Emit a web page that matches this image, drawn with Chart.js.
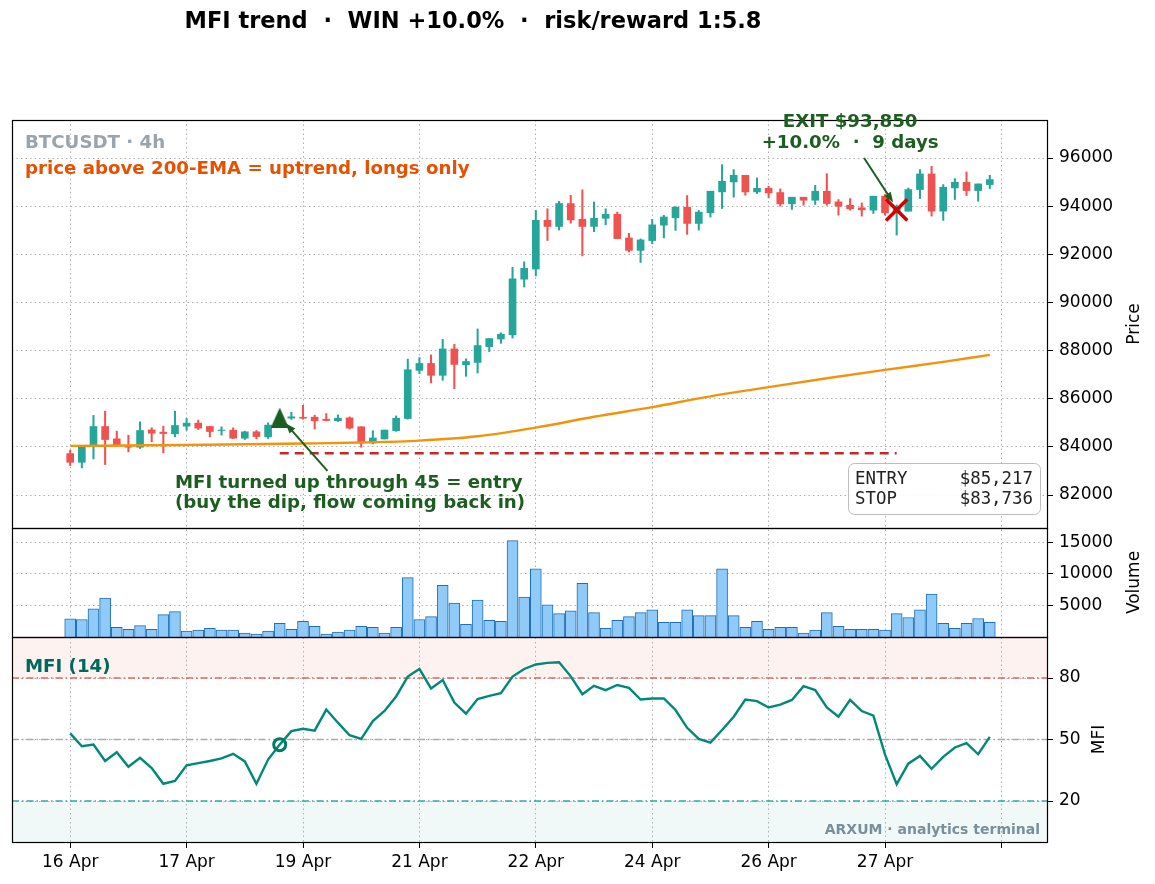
<!DOCTYPE html>
<html>
<head>
<meta charset="utf-8">
<script src="https://cdn.jsdelivr.net/npm/chart.js@4.4.1/dist/chart.umd.min.js"></script>
<style>
  html, body { margin: 0; padding: 0; background: #fff; }
  #wrap { position: relative; width: 1155px; height: 884px; }
</style>
</head>
<body>
<div id="wrap"><canvas id="c" width="1155" height="884"></canvas></div>
<script>
const FONT = "'DejaVu Sans', sans-serif";
const MONO = "'DejaVu Sans Mono', monospace";

// x axis: one slot per 4h candle, a date label every 10 candles
const dayLabels = ['16 Apr', '17 Apr', '19 Apr', '21 Apr', '22 Apr', '24 Apr', '26 Apr', '27 Apr', ''];
const dayTickIdx = [0, 10, 20, 30, 40, 50, 60, 70, 80];
const priceTicks = [82000, 84000, 86000, 88000, 90000, 92000, 94000, 96000];
const volumeTicks = [5000, 10000, 15000];
const mfiTicks = [20, 50, 80];

// BTCUSDT 4h candles
const open = [83722, 83361, 84028, 84847, 84333, 84055, 83986, 84708, 84611, 84541,
  84861, 84986, 84847, 84680, 84695, 84361, 84625, 84416, 84903, 85194,
  85233, 85233, 85150, 85082, 85206, 84835, 84164, 84329, 84671, 85178,
  87178, 87466, 86973, 88068, 87411, 87507, 88164, 88480, 88655, 90967,
  91389, 93415, 93157, 94109, 93456, 93157, 93497, 93660, 92681, 92164,
  92572, 93211, 93517, 93959, 93283, 93724, 94593, 95007, 95283, 94593,
  94745, 94566, 94097, 94373, 94248, 94621, 94179, 94041, 93931, 93834,
  94414, 93750, 93793, 94690, 95338, 93793, 94759, 94993, 94648, 94897];
const high = [83861, 83986, 85306, 85486, 84653, 84486, 85042, 84792, 84861, 85486,
  85180, 85111, 84847, 84833, 84792, 84653, 84680, 85000, 85300, 85444,
  85726, 85315, 85384, 85329, 85246, 84835, 84671, 84698, 85287, 87644,
  87712, 87822, 88466, 88260, 87658, 88900, 88500, 88740, 91457, 91688,
  93823, 93891, 94204, 94449, 94680, 94177, 93891, 93755, 92871, 92640,
  93456, 93619, 93980, 94442, 93821, 94621, 95724, 95518, 95283, 95172,
  94828, 94718, 94373, 94373, 94869, 95352, 94276, 94317, 94138, 94414,
  94483, 94050, 94759, 95517, 95655, 94897, 95145, 95421, 94924, 95283];
const low = [83222, 83125, 83500, 83264, 84028, 83792, 83930, 84208, 83750, 84416,
  84694, 84722, 84416, 84486, 84347, 84305, 84333, 84347, 84850, 85139,
  85150, 84740, 85082, 85055, 84740, 83986, 84123, 84329, 84644, 85150,
  87041, 86657, 86767, 86411, 86932, 87068, 87959, 88300, 88519, 90640,
  91103, 92572, 93007, 93293, 91933, 92939, 93225, 92654, 92096, 91661,
  92436, 92681, 92993, 92827, 93006, 93545, 93903, 94373, 94455, 94524,
  94345, 94000, 93862, 94041, 94069, 94041, 93627, 93834, 93586, 93696,
  93627, 92800, 93793, 94317, 93586, 93407, 94276, 94442, 94207, 94731];
const close = [83361, 83986, 84847, 84305, 84097, 83986, 84680, 84569, 84555, 84889,
  84986, 84778, 84639, 84700, 84361, 84625, 84430, 84903, 85217, 85250,
  85192, 85082, 85096, 85192, 84781, 84164, 84370, 84698, 85192, 87205,
  87466, 86973, 88068, 87425, 87548, 88210, 88500, 88680, 90981, 91416,
  93415, 93157, 94109, 93429, 93157, 93497, 93660, 92654, 92164, 92599,
  93225, 93551, 93959, 93283, 93752, 94621, 95035, 95283, 94593, 94745,
  94552, 94097, 94373, 94248, 94621, 94110, 94000, 93890, 93848, 94414,
  93724, 93950, 94690, 95338, 93793, 94786, 94993, 94648, 94924, 95104];
const volume = [2900, 2780, 4480, 6180, 1545, 1236, 1800, 1236, 3550, 4020,
  930, 1080, 1390, 1080, 1080, 620, 460, 930, 2160, 1236,
  2470, 1700, 460, 770, 1080, 1700, 1545, 620, 1545, 9420,
  2780, 3245, 8190, 5400, 2010, 5870, 2630, 2470, 15300, 6330,
  10800, 5100, 3710, 4170, 8500, 3860, 1390, 2630, 3245, 3860,
  4330, 2320, 2320, 4330, 3400, 3400, 10800, 3400, 1545, 2470,
  1236, 1545, 1545, 620, 1080, 3860, 1700, 1236, 1236, 1236,
  1080, 3710, 3090, 4330, 6800, 2160, 1390, 2160, 2935, 2320];
const mfi = [53, 46.7, 47.5, 39.5, 43.8, 36.7, 41.1, 36.1, 28.4, 29.8,
  37.4, 38.5, 39.5, 40.8, 43, 39.3, 28.4, 40.2, 47.5, 54.1,
  55.2, 54.3, 64.6, 58.2, 52.1, 50.3, 59, 63.9, 71, 80.7,
  84.4, 74.9, 79, 68, 62.6, 69.7, 71.3, 72.6, 80.7, 84.4,
  86.6, 87.4, 87.7, 80.8, 72.1, 76.2, 74.1, 76.6, 75.2, 69.5,
  70, 70, 64.4, 55.7, 50.3, 48.5, 54.6, 61.1, 69.5, 68.7,
  65.6, 67, 69.3, 76, 74.1, 65.6, 61.1, 69.3, 63.9, 61.6,
  42.6, 28.2, 38.2, 42, 35.7, 41.5, 46.1, 48.2, 42.8, 51.3];
// 200-EMA read at every 5th candle
const emaIdx = [0, 5, 10, 15, 20, 25, 30, 35, 40, 45, 50, 55, 60, 65, 70, 75, 79];
const ema200 = [84040, 84060, 84080, 84110, 84140, 84180, 84260, 84440, 84800, 85250,
  85650, 86100, 86480, 86850, 87200, 87530, 87820];

const entryIdx = 18, entryPrice = 85217;
const exitIdx = 71, exitPrice = 93850;
const stopPrice = 83736, stopEndIdx = 71;
const mfiHigh = 80, mfiMid = 50, mfiLow = 20;

const UP = '#26a69a', DOWN = '#ef5350', DARKGREEN = '#1b5e20';

const idx = open.map((_, i) => i);
const candleColor = idx.map(i => close[i] >= open[i] ? UP : DOWN);

// entry marker: triangle centred on its box, like a matplotlib '^'
const triangle = document.createElement('canvas');
triangle.width = 18; triangle.height = 20;
(() => {
  const t = triangle.getContext('2d');
  t.fillStyle = DARKGREEN;
  t.beginPath(); t.moveTo(9, 0); t.lineTo(18, 20); t.lineTo(0, 20); t.closePath(); t.fill();
})();

function grid() {
  return { offset: false, color: '#b0b0b0', lineWidth: 1, tickColor: '#000', tickLength: 5, tickWidth: 1, tickBorderDash: [] };
}
function fixedTicks(values) {
  return s => { s.ticks = values.map(v => ({ value: v })); };
}
function yAxis(weight, min, max, values) {
  return {
    type: 'linear', position: 'right', stack: 'panels', stackWeight: weight,
    min: min, max: max,
    afterBuildTicks: fixedTicks(values),
    afterFit: s => { s.width = 107; s.paddingTop = 0; s.paddingBottom = 0; },
    ticks: { font: { size: 17, family: FONT }, color: '#000', padding: 6, callback: v => String(v) },
    grid: grid(),
    border: { display: false, dash: [1.5, 3] }
  };
}

function arrow(ctx, x1, y1, x2, y2) {
  const a = Math.atan2(y2 - y1, x2 - x1);
  ctx.strokeStyle = DARKGREEN; ctx.fillStyle = DARKGREEN; ctx.lineWidth = 2;
  ctx.beginPath(); ctx.moveTo(x1, y1); ctx.lineTo(x2 - 7 * Math.cos(a), y2 - 7 * Math.sin(a)); ctx.stroke();
  ctx.beginPath(); ctx.moveTo(x2, y2);
  ctx.lineTo(x2 - 11 * Math.cos(a - 0.35), y2 - 11 * Math.sin(a - 0.35));
  ctx.lineTo(x2 - 11 * Math.cos(a + 0.35), y2 - 11 * Math.sin(a + 0.35));
  ctx.closePath(); ctx.fill();
}

const overlay = {
  id: 'overlay',
  beforeDraw(chart) {
    const { ctx, chartArea: a, scales: { ym } } = chart;
    ctx.save();
    const yHi = ym.getPixelForValue(mfiHigh), yLo = ym.getPixelForValue(mfiLow);
    ctx.fillStyle = 'rgba(239,83,80,0.08)';
    ctx.fillRect(a.left, ym.top, a.width, yHi - ym.top);
    ctx.fillStyle = 'rgba(38,166,154,0.07)';
    ctx.fillRect(a.left, yLo, a.width, ym.bottom - yLo);
    ctx.restore();
  },
  afterDatasetsDraw(chart) {
    const { ctx, chartArea: a, scales } = chart;
    ctx.save();
    ctx.strokeStyle = '#000'; ctx.lineWidth = 1.2;
    ['y', 'yv', 'ym'].forEach(k => {
      const s = scales[k];
      ctx.strokeRect(a.left + 0.5, s.top + 0.5, a.width - 1, s.bottom - s.top);
    });
    ctx.restore();
  },
  afterDraw(chart) {
    const { ctx, chartArea: a, scales: { x, y, yv, ym } } = chart;
    ctx.save();
    ctx.textBaseline = 'middle';

    // figure title
    ctx.fillStyle = '#000'; ctx.textAlign = 'center';
    ctx.font = 'bold 22.5px ' + FONT;
    ctx.fillText('MFI trend  \u00b7  WIN +10.0%  \u00b7  risk/reward 1:5.8', 473, 22);

    // axis titles
    ctx.font = '17px ' + FONT;
    [[y, 'Price', a.right + 87], [yv, 'Volume', a.right + 87], [ym, 'MFI', a.right + 52]].forEach(([s, t, px]) => {
      ctx.save();
      ctx.translate(px, (s.top + s.bottom) / 2);
      ctx.rotate(-Math.PI / 2);
      ctx.fillText(t, 0, 0);
      ctx.restore();
    });

    // price panel captions
    ctx.textAlign = 'left';
    ctx.font = 'bold 18.2px ' + FONT;
    ctx.fillStyle = '#9aa4ad';
    ctx.fillText('BTCUSDT \u00b7 4h', a.left + 13, y.top + 23);
    ctx.fillStyle = '#e65100';
    ctx.fillText('price above 200-EMA = uptrend, longs only', a.left + 13, y.top + 49);

    // entry annotation
    ctx.font = 'bold 18.2px ' + FONT;
    ctx.fillStyle = DARKGREEN;
    const ex = x.getPixelForValue(9);
    ctx.fillText('MFI turned up through 45 = entry', ex, y.getPixelForValue(82500));
    ctx.fillText('(buy the dip, flow coming back in)', ex, y.getPixelForValue(82500) + 20);
    arrow(ctx, x.getPixelForValue(22.1), y.getPixelForValue(83000), x.getPixelForValue(18.5), y.getPixelForValue(84980));

    // exit annotation
    ctx.textAlign = 'center';
    const xx = x.getPixelForValue(67);
    ctx.fillText('EXIT $93,850', xx, y.getPixelForValue(97500));
    ctx.fillText('+10.0%  \u00b7  9 days', xx, y.getPixelForValue(97500) + 21);
    arrow(ctx, x.getPixelForValue(68.2), y.getPixelForValue(96000), x.getPixelForValue(70.7), y.getPixelForValue(94150));

    // entry / stop box
    const bx = a.right - 200, by = y.getPixelForValue(83330), bw = 192, bh = 51;
    ctx.beginPath();
    ctx.roundRect(bx + 0.5, by + 0.5, bw, bh, 6);
    ctx.fillStyle = 'rgba(255,255,255,0.9)'; ctx.fill();
    ctx.strokeStyle = '#bdbdbd'; ctx.lineWidth = 1; ctx.stroke();
    ctx.fillStyle = '#222'; ctx.textAlign = 'left';
    ctx.font = '17.4px ' + MONO;
    ctx.fillText('ENTRY     $85,217', bx + 7, by + 16);
    ctx.fillText('STOP      $83,736', bx + 7, by + 36);

    // MFI panel captions
    ctx.font = 'bold 18.2px ' + FONT;
    ctx.fillStyle = '#00695c';
    ctx.fillText('MFI (14)', a.left + 13, ym.top + 30);
    ctx.font = 'bold 14px ' + FONT;
    ctx.fillStyle = '#78909c'; ctx.textAlign = 'right';
    ctx.fillText('ARXUM \u00b7 analytics terminal', a.right - 8, ym.bottom - 12);
    ctx.restore();
  }
};

const levelLine = (v, color) => ({
  type: 'line', yAxisID: 'ym', order: 5,
  data: [{ x: -5, y: v }, { x: 84, y: v }],
  borderColor: color, borderWidth: 1.3, borderDash: [7, 3, 1.5, 3],
  pointRadius: 0
});

new Chart(document.getElementById('c'), {
  type: 'bar',
  data: {
    datasets: [
      { type: 'line', order: 0, yAxisID: 'y', data: [{ x: entryIdx, y: entryPrice }],
        showLine: false, pointStyle: triangle, pointRadius: 10 },
      { type: 'line', order: 0, yAxisID: 'y', data: [{ x: exitIdx, y: exitPrice }],
        showLine: false, pointStyle: 'crossRot', pointRadius: 15, borderColor: '#d50000', borderWidth: 3.5 },
      { type: 'line', order: 0, yAxisID: 'ym', data: [{ x: entryIdx, y: mfi[entryIdx] }],
        showLine: false, pointStyle: 'circle', pointRadius: 6, backgroundColor: 'rgba(0,0,0,0)', borderColor: '#00796b', borderWidth: 3 },
      { type: 'line', order: 1, yAxisID: 'y', data: [{ x: entryIdx, y: stopPrice }, { x: stopEndIdx, y: stopPrice }],
        borderColor: '#c62828', borderWidth: 2.5, borderDash: [9, 6], pointRadius: 0 },
      { type: 'line', order: 2, yAxisID: 'y', data: emaIdx.map((v, k) => ({ x: v, y: ema200[k] })),
        borderColor: '#f3920c', borderWidth: 2.4, pointRadius: 0, cubicInterpolationMode: 'monotone' },
      { type: 'line', order: 2, yAxisID: 'ym', data: idx.map(i => ({ x: i, y: mfi[i] })),
        borderColor: '#00897b', borderWidth: 2.4, pointRadius: 0, tension: 0 },
      { order: 3, yAxisID: 'y', grouped: false, barThickness: 7,
        data: idx.map(i => ({ x: i, y: [open[i], close[i]] })),
        backgroundColor: candleColor, borderWidth: 0 },
      { order: 4, yAxisID: 'y', grouped: false, barThickness: 1.4,
        data: idx.map(i => ({ x: i, y: [low[i], high[i]] })),
        backgroundColor: candleColor, borderWidth: 0 },
      levelLine(mfiHigh, 'rgba(229,83,80,0.9)'),
      levelLine(mfiMid, '#aaaaaa'),
      levelLine(mfiLow, 'rgba(38,166,154,0.95)'),
      { order: 6, yAxisID: 'yv', grouped: false, barThickness: 11,
        data: idx.map(i => ({ x: i, y: volume[i] })),
        backgroundColor: '#90caf9', borderColor: '#1f6fb4', borderWidth: 1 }
    ]
  },
  options: {
    responsive: false,
    animation: false,
    layout: { autoPadding: false, padding: { top: 120, left: 12, right: 0, bottom: 0 } },
    plugins: { legend: { display: false }, tooltip: { enabled: false } },
    scales: {
      x: {
        type: 'linear', min: -5, max: 84, offset: false,
        afterBuildTicks: fixedTicks(dayTickIdx),
        afterFit: s => { s.height = 42; s.paddingLeft = 0; s.paddingRight = 0; },
        ticks: { autoSkip: false, maxRotation: 0, padding: 4, font: { size: 17, family: FONT }, color: '#000',
          callback: v => { const k = dayTickIdx.indexOf(v); return k < 0 ? '' : dayLabels[k]; } },
        grid: Object.assign(grid(), { tickLength: 6 }),
        border: { display: false, dash: [1.5, 3] }
      },
      y: yAxis(408, 80630, 97580, priceTicks),
      yv: yAxis(109, 0, 17300, volumeTicks),
      ym: yAxis(205, 0, 100, mfiTicks)
    }
  },
  plugins: [overlay]
});
</script>
</body>
</html>
